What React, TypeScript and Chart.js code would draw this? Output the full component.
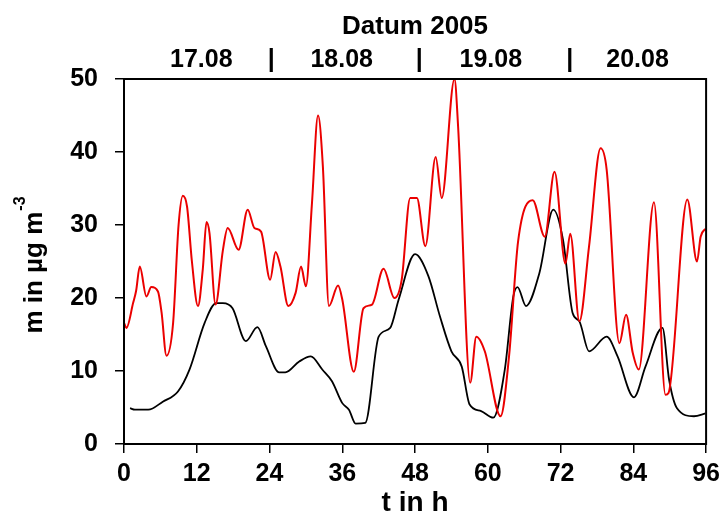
import React, { useEffect, useRef } from "react";
import { Chart, registerables } from "chart.js";

Chart.register(...registerables);

// ---- data ----
const redHours = [0, 0.4, 1.5, 2.0, 2.6, 3.7, 4.5, 5.6, 6.2, 7.0, 8.1, 9.0, 9.7, 10.4, 11.2, 12.2, 13.0, 13.6, 14.1, 15.1, 16.3, 17.1, 18.9, 20.4, 21.5, 22.6, 24.1, 25.0, 25.8, 27.1, 28.3, 29.2, 30.0, 31.0, 32.0, 32.8, 33.8, 35.3, 36.0, 37.9, 39.5, 40.9, 42.8, 44.6, 45.8, 47.2, 48.3, 49.7, 51.4, 52.4, 54.5, 55.1, 57.1, 58.1, 59.5, 62.1, 63.5, 65.0, 67.4, 69.4, 71.0, 72.8, 73.6, 75.1, 76.7, 78.6, 79.6, 81.7, 82.8, 83.9, 84.9, 87.4, 89.3, 89.8, 92.9, 94.5, 95.1, 95.9];
const redValues = [16.6, 15.9, 19.3, 21.0, 24.3, 20.2, 21.5, 20.9, 18.0, 12.1, 16.6, 30.0, 34.0, 32.5, 25.0, 18.9, 24.0, 30.4, 28.9, 19.1, 26.5, 29.6, 26.6, 32.1, 29.6, 29.1, 22.5, 26.3, 24.3, 18.9, 20.7, 24.3, 21.6, 33.0, 45.0, 38.0, 18.9, 21.7, 19.8, 9.9, 18.6, 19.1, 24.0, 20.0, 22.5, 33.7, 33.7, 27.1, 39.3, 33.7, 50.0, 43.5, 8.4, 14.7, 12.7, 3.8, 12.0, 27.8, 33.4, 28.4, 37.3, 24.7, 28.8, 16.8, 27.1, 40.5, 37.6, 13.8, 17.7, 12.5, 10.2, 33.1, 6.75, 7.0, 33.5, 25.0, 28.4, 29.5];

const blackHours = [1.0, 1.8, 4.0, 6.4, 8.9, 10.8, 13.3, 15.2, 16.3, 17.9, 20.1, 22.0, 23.4, 25.6, 26.6, 28.9, 30.8, 32.7, 34.3, 36.0, 37.1, 38.2, 39.8, 42.0, 43.9, 45.3, 48.0, 50.2, 52.1, 54.0, 55.7, 57.0, 58.9, 60.9, 62.8, 64.2, 64.9, 66.3, 68.5, 70.8, 72.4, 74.0, 75.1, 76.7, 79.6, 81.4, 84.1, 86.0, 88.8, 89.9, 91.2, 94.0, 95.9];
const blackValues = [4.9, 4.7, 4.7, 5.8, 7.2, 10.2, 16.6, 19.3, 19.3, 18.6, 14.1, 16.0, 13.4, 9.8, 9.8, 11.3, 12.0, 10.2, 8.6, 5.6, 4.7, 2.8, 2.9, 14.7, 15.9, 19.8, 26.0, 23.0, 17.5, 12.7, 10.6, 5.4, 4.5, 3.6, 10.2, 20.2, 21.5, 18.9, 23.4, 32.1, 28.0, 17.9, 16.8, 12.7, 14.7, 12.0, 6.4, 10.6, 15.9, 8.8, 4.9, 3.8, 4.2];

const xTickValues = [0, 12, 24, 36, 48, 60, 72, 84, 96];
const yTickValues = [0, 10, 20, 30, 40, 50];
const topTickHours = [12.75, 24.3, 35.9, 48.7, 60.5, 73.5, 84.7];
const topTickLabels = ["17.08", "|", "18.08", "|", "19.08", "|", "20.08"];

const xTitle = "t in h";
const topTitle = "Datum 2005";
const yTitleMain = "m in µg m";
const yTitleSup = "-3";

const FONT = "'Liberation Sans', Arial, sans-serif";

const frame = {
  id: "frame",
  afterDraw(chart: any) {
    const { ctx, chartArea } = chart;
    ctx.save();
    ctx.strokeStyle = "#000";
    ctx.lineWidth = 2;
    ctx.strokeRect(chartArea.left, chartArea.top, chartArea.right - chartArea.left, chartArea.bottom - chartArea.top);
    // y axis title with superscript
    const cy = (chartArea.top + chartArea.bottom) / 2 + 4;
    ctx.translate(42, cy);
    ctx.rotate(-Math.PI / 2);
    ctx.fillStyle = "#000";
    ctx.textBaseline = "alphabetic";
    ctx.textAlign = "left";
    ctx.font = `bold 26px ${FONT}`;
    const wMain = ctx.measureText(yTitleMain).width;
    ctx.font = `bold 16px ${FONT}`;
    const wSup = ctx.measureText(yTitleSup).width;
    const start = -(wMain + wSup) / 2;
    ctx.font = `bold 26px ${FONT}`;
    ctx.fillText(yTitleMain, start, 0);
    ctx.font = `bold 16px ${FONT}`;
    ctx.fillText(yTitleSup, start + wMain + 1, -17);
    ctx.restore();
  },
};

export default function App() {
  const ref = useRef<HTMLCanvasElement>(null);
  useEffect(() => {
    if (!ref.current) return;
    const tickFont = { family: FONT, size: 25, weight: "bold" as const };
    const chart = new Chart(ref.current, {
      type: "line",
      data: {
        datasets: [
          {
            label: "red",
            data: redHours.map((h, i) => ({ x: h, y: redValues[i] })),
            borderColor: "rgb(235,0,0)",
            borderWidth: 2,
            pointRadius: 0,
            cubicInterpolationMode: "monotone",
            fill: false,
          },
          {
            label: "black",
            data: blackHours.map((h, i) => ({ x: h, y: blackValues[i] })),
            borderColor: "#000",
            borderWidth: 1.8,
            pointRadius: 0,
            cubicInterpolationMode: "monotone",
            fill: false,
          },
        ],
      },
      plugins: [frame],
      options: {
        responsive: false,
        animation: false,
        layout: { padding: { left: 0, right: 17, top: 0, bottom: 0 } },
        plugins: { legend: { display: false }, tooltip: { enabled: false } },
        scales: {
          x: {
            type: "linear",
            position: "bottom",
            min: 0,
            max: 96,
            afterBuildTicks: (s: any) => {
              s.ticks = xTickValues.map((v) => ({ value: v }));
            },
            afterFit: (s: any) => {
              s.height = 80;
            },
            grid: { drawOnChartArea: false, tickLength: 9, color: "#000", lineWidth: 1.5 },
            border: { display: false },
            ticks: { color: "#000", font: tickFont, padding: 6, maxRotation: 0, autoSkip: false },
            title: { display: true, text: xTitle, color: "#000", font: { family: FONT, size: 28, weight: "bold" }, padding: { top: 0, bottom: 4 } },
          },
          x2: {
            type: "linear",
            position: "top",
            min: 0,
            max: 96,
            afterBuildTicks: (s: any) => {
              s.ticks = topTickHours.map((v) => ({ value: v }));
            },
            afterFit: (s: any) => {
              s.height = 79;
            },
            grid: { display: false },
            border: { display: false },
            ticks: {
              color: "#000",
              font: tickFont,
              padding: -4,
              maxRotation: 0,
              autoSkip: false,
              callback: (_v: any, i: number) => topTickLabels[i],
            },
            title: { display: true, text: topTitle, color: "#000", font: { family: FONT, size: 26, weight: "bold" }, padding: { top: 11, bottom: 0 } },
          },
          y: {
            type: "linear",
            min: 0,
            max: 50,
            afterBuildTicks: (s: any) => {
              s.ticks = yTickValues.map((v) => ({ value: v }));
            },
            afterFit: (s: any) => {
              s.width = 124;
            },
            grid: { drawOnChartArea: false, tickLength: 9, color: "#000", lineWidth: 1.5 },
            border: { display: false },
            ticks: { color: "#000", font: tickFont, padding: 17 },
          },
        },
      },
    });
    return () => chart.destroy();
  }, []);
  return (
    <canvas
      ref={ref}
      width={726}
      height={524}
      style={{ position: "absolute", left: 0, top: 0, width: 726, height: 524, background: "#fff" }}
    />
  );
}
